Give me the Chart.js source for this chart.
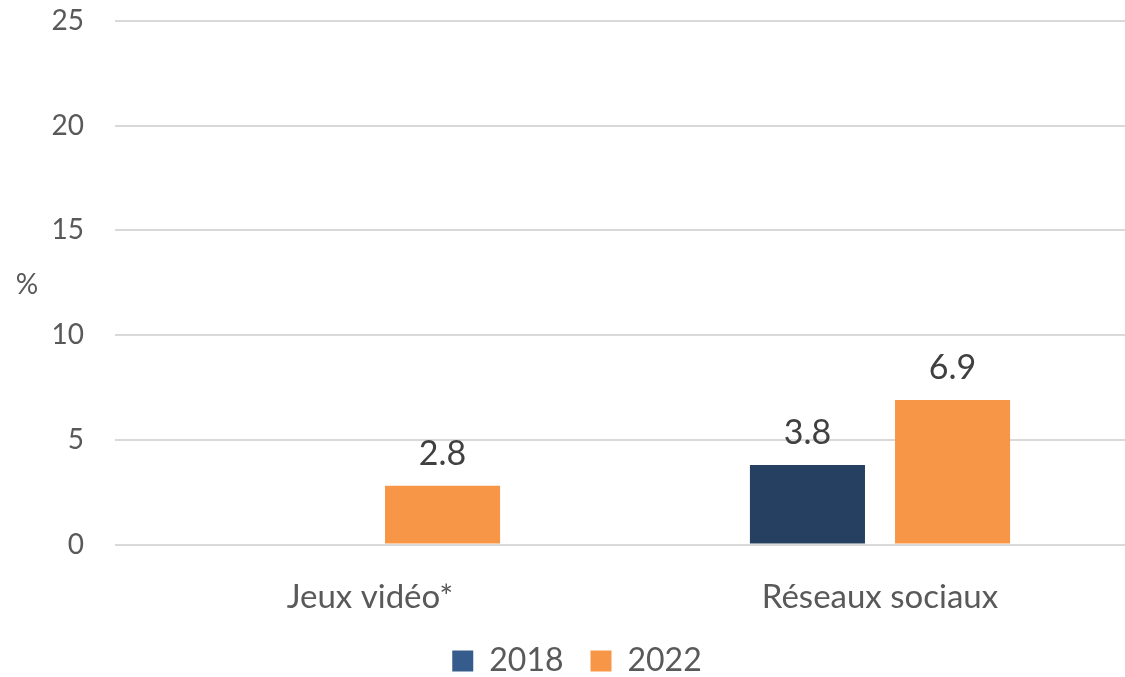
<!DOCTYPE html>
<html>
<head>
<meta charset="utf-8">
<script src="https://cdn.jsdelivr.net/npm/chart.js@4.4.1/dist/chart.umd.min.js"></script>
<style>
  html, body { margin: 0; padding: 0; background: #fff; overflow: hidden; }
  #wrap { width: 1135px; height: 677px; }
</style>
</head>
<body>
<div id="wrap"><canvas id="barChart" width="1135" height="677"></canvas></div>
<script>
// données
const categories = ["Jeux vidéo*", "Réseaux sociaux"];
const years = ["2018", "2022"];
const values2018 = [null, 3.8];
const values2022 = [2.8, 6.9];
const yTicks = [0, 5, 10, 15, 20, 25];

const barColors = ["#254061", "#F79646"];
const legendColors = ["#355C8C", "#F79646"];
const FONT = "Lato, 'Open Sans', sans-serif";

// étiquettes de valeur au-dessus des barres
const valueLabels = {
  id: "valueLabels",
  afterDatasetsDraw(chart) {
    const ctx = chart.ctx;
    ctx.save();
    ctx.font = "34px " + FONT;
    ctx.fillStyle = "#404040";
    ctx.textAlign = "center";
    ctx.textBaseline = "alphabetic";
    chart.data.datasets.forEach((ds, i) => {
      chart.getDatasetMeta(i).data.forEach((bar, j) => {
        const v = ds.data[j];
        if (v === null || v === undefined) return;
        ctx.fillText(v.toFixed(1), bar.x, bar.y - 21);
      });
    });
    ctx.restore();
  }
};

// "%" horizontal à gauche de l'axe
const percentTitle = {
  id: "percentTitle",
  afterDraw(chart) {
    const ctx = chart.ctx;
    ctx.save();
    ctx.font = "28px " + FONT;
    ctx.fillStyle = "#595959";
    ctx.textAlign = "center";
    ctx.textBaseline = "middle";
    ctx.fillText("%", 27, 285);
    ctx.restore();
  }
};

const ctx = document.getElementById("barChart").getContext("2d");
new Chart(ctx, {
  type: "bar",
  data: {
    labels: categories,
    datasets: [
      { label: years[0], data: values2018, backgroundColor: barColors[0] },
      { label: years[1], data: values2022, backgroundColor: barColors[1] }
    ]
  },
  options: {
    responsive: false,
    animation: false,
    layout: { padding: { top: 21, right: 0, left: 19, bottom: -10 } },
    datasets: {
      bar: { categoryPercentage: 0.569, barPercentage: 0.793 }
    },
    plugins: {
      tooltip: { enabled: false },
      legend: {
        position: "bottom",
        labels: {
          font: { family: FONT, size: 32 },
          color: "#595959",
          boxWidth: 21,
          boxHeight: 21,
          padding: 27,
          generateLabels(chart) {
            return chart.data.datasets.map((ds, i) => ({
              text: ds.label,
              fillStyle: legendColors[i],
              strokeStyle: legendColors[i],
              lineWidth: 0,
              fontColor: "#595959",
              datasetIndex: i
            }));
          }
        }
      }
    },
    scales: {
      x: {
        afterFit(scale) { scale.height = 73.5; },
        grid: { display: false, drawTicks: false },
        border: { display: false },
        ticks: {
          font: { family: FONT, size: 33 },
          color: "#595959",
          padding: 33
        }
      },
      y: {
        min: 0,
        max: 25,
        afterFit(scale) {
          scale.width = 96;
          scale.paddingTop = 0;
          scale.paddingBottom = 0;
        },
        afterBuildTicks(scale) { scale.ticks = yTicks.map(v => ({ value: v })); },
        grid: { color: "#D9D9D9", lineWidth: 2, drawTicks: false },
        border: { display: false },
        ticks: {
          font: { family: FONT, size: 28 },
          color: "#595959",
          padding: 31
        }
      }
    }
  },
  plugins: [valueLabels, percentTitle]
});
</script>
</body>
</html>
